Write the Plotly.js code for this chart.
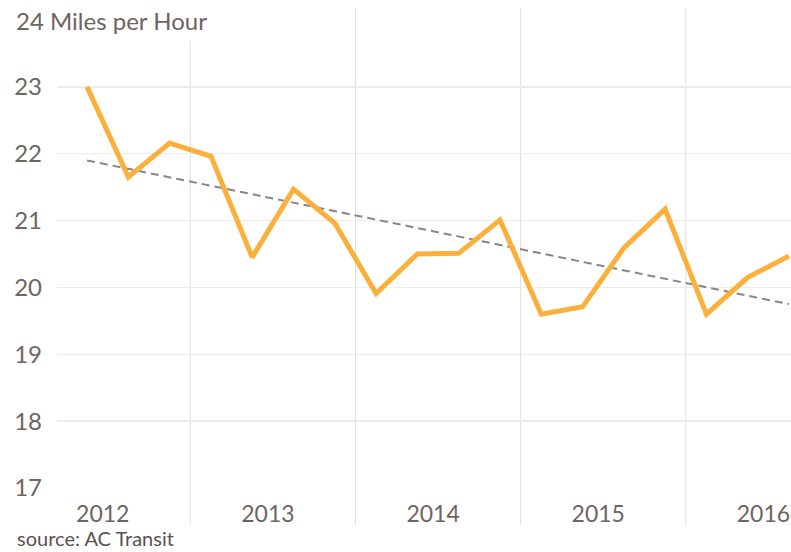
<!DOCTYPE html>
<html>
<head>
<meta charset="utf-8">
<script src="https://cdn.plot.ly/plotly-3.0.1.min.js"></script>
<style>html,body{margin:0;padding:0;background:#fff;}#chart{width:791px;height:552px;}</style>
</head>
<body>
<div id="chart"></div>
<script>
// Quarterly average speed (miles per hour), AC Transit
const quarterYears = [2012,2012,2012,2013,2013,2013,2013,2014,2014,2014,2014,2015,2015,2015,2015,2016,2016,2016];
const quarterNums  = [2,3,4,1,2,3,4,1,2,3,4,1,2,3,4,1,2,3];
const speedMph     = [23.0,21.65,22.16,21.96,20.45,21.47,20.96,19.91,20.50,20.51,21.01,19.60,19.71,20.59,21.17,19.60,20.15,20.47];
const trendQuarters = [[2012,2],[2016,3]];
const trendMph      = [21.90,19.75];
const yearLabels   = ['2012','2013','2014','2015','2016'];
const yearBounds   = [2013,2014,2015,2016];
const yTicks       = [17,18,19,20,21,22,23];
const yTopLabel    = '24 Miles per Hour';
const sourceText   = 'source: AC Transit';

const qx = (y,q) => y + (q - 0.5)/4;
const xs = quarterYears.map((y,i) => qx(y, quarterNums[i]));
const trendX = trendQuarters.map(p => qx(p[0], p[1]));

const txt = '#6e6460';
const font = 'Lato, "Open Sans", sans-serif';

const traces = [
  {x: trendX, y: trendMph, mode: 'lines', line: {color: '#8c8382', width: 2, dash: '8px,5px'}, hoverinfo: 'skip', cliponaxis: false},
  {x: xs, y: speedMph, mode: 'lines', line: {color: '#FBB03B', width: 5}, cliponaxis: false}
];

const shapes = yearBounds.map(b => ({
  type: 'line', xref: 'x', yref: 'paper', x0: b, x1: b, y0: -0.079, y1: 1.0235,
  line: {color: '#e2dede', width: 1}, layer: 'below'
}));

const layout = {
  width: 791, height: 552,
  margin: {l: 57, r: 0, t: 20, b: 64},
  paper_bgcolor: '#fff', plot_bgcolor: '#fff',
  showlegend: false,
  font: {family: font, color: txt, size: 24},
  xaxis: {
    range: [2012.193, 2016.637],
    tickvals: yearLabels.map(y => +y + 0.47), ticktext: yearLabels,
    showgrid: false, zeroline: false, showline: false,
    ticks: '', ticklabelstandoff: 10, ticklabeloverflow: 'allow',
    tickfont: {family: font, size: 23, color: txt}
  },
  yaxis: {
    range: [17, 24],
    tickvals: yTicks, ticktext: yTicks.map(String),
    showgrid: true, gridcolor: '#ebebeb', gridwidth: 1.5,
    zeroline: false, showline: false,
    ticks: '', ticklabelstandoff: 14,
    tickfont: {family: font, size: 24, color: txt}
  },
  shapes: shapes,
  annotations: [
    {xref: 'paper', yref: 'y', x: (15 - 57)/734, y: 24, xanchor: 'left', yanchor: 'middle',
     text: yTopLabel, showarrow: false, bgcolor: '#fff', borderpad: 0, width: 202, height: 40, align: 'left',
     font: {family: font, size: 24, color: txt}},
    {xref: 'paper', yref: 'paper', x: (15 - 57)/734, y: -(552 - 488)/468, xanchor: 'left', yanchor: 'bottom',
     text: sourceText, showarrow: false, font: {family: font, size: 20, color: '#5a524e'}}
  ]
};

Plotly.newPlot('chart', traces, layout, {displayModeBar: false, staticPlot: true});
</script>
</body>
</html>
